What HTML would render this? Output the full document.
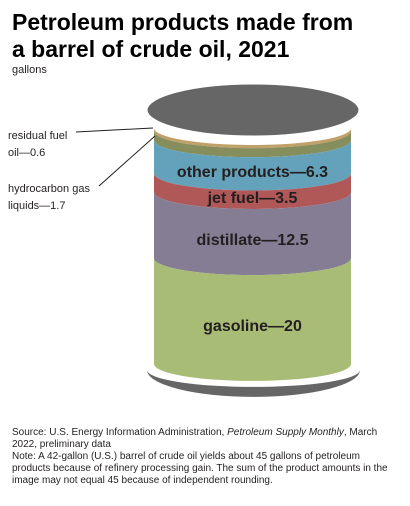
<!DOCTYPE html>
<html><head><meta charset="utf-8"><style>
body{margin:0;background:#fff;width:410px;height:506px;overflow:hidden;font-family:"Liberation Sans",sans-serif;}
svg{display:block}
</style></head><body>
<svg id="c" width="410" height="506" xmlns="http://www.w3.org/2000/svg">
<text x="12" y="30" font-size="23" font-weight="bold" fill="#000">Petroleum products made from</text>
<text x="12" y="57" font-size="23" font-weight="bold" fill="#000">a barrel of crude oil, 2021</text>
<text x="12" y="73" font-size="11" fill="#231f20">gallons</text>
<g id="bands"></g>
<ellipse cx="253" cy="110" rx="107" ry="27" fill="#666" stroke="#fff" stroke-width="3"/>
<line x1="76" y1="132" x2="153" y2="128" stroke="#231f20" stroke-width="1"/>
<line x1="99" y1="186" x2="155" y2="136" stroke="#231f20" stroke-width="1"/>
<text x="8" y="139" font-size="11" fill="#231f20">residual fuel</text>
<text x="8" y="156" font-size="11" fill="#231f20">oil—0.6</text>
<text x="8" y="192" font-size="11" fill="#231f20">hydrocarbon gas</text>
<text x="8" y="209" font-size="11" fill="#231f20">liquids—1.7</text>
<g font-size="10" fill="#231f20">
<text x="12" y="435">Source: U.S. Energy Information Administration, <tspan font-style="italic">Petroleum Supply Monthly</tspan>, March</text>
<text x="12" y="447">2022, preliminary data</text>
<text x="12" y="459">Note: A 42-gallon (U.S.) barrel of crude oil yields about 45 gallons of petroleum</text>
<text x="12" y="471">products because of refinery processing gain. The sum of the product amounts in the</text>
<text x="12" y="483">image may not equal 45 because of independent rounding.</text>
</g>
</svg>
<script>
const products=["residual fuel oil","hydrocarbon gas liquids","other products","jet fuel","distillate","gasoline"];
const gallons=[0.6,1.7,6.3,3.5,12.5,20];
const labels=["","","other products—6.3","jet fuel—3.5","distillate—12.5","gasoline—20"];
const colors=["#c2a06a","#868e5e","#64a2bb","#b05858","#857d94","#a9bc76"];
const NS="http://www.w3.org/2000/svg";
const g=document.getElementById('bands');
const x0=154,x1=351,top0=128,scale=5.29,ry=17;
const rx=(x1-x0)/2;
function yScale(v){return top0+v*scale;}
let cum=0;
for(let i=0;i<gallons.length;i++){
  const ya=yScale(cum),yb=yScale(cum+gallons[i]);
  const p=document.createElementNS(NS,'path');
  p.setAttribute('d',`M ${x0} ${ya} A ${rx} ${ry} 0 0 0 ${x1} ${ya} L ${x1} ${yb} A ${rx} ${ry} 0 0 1 ${x0} ${yb} Z`);
  p.setAttribute('fill',colors[i]);
  
  
  g.appendChild(p);
  if(labels[i]){
    const t=document.createElementNS(NS,'text');
    t.setAttribute('x',(x0+x1)/2);
    t.setAttribute('y',(ya+yb)/2+ry+3);
    t.setAttribute('text-anchor','middle');
    t.setAttribute('font-size','16');
    t.setAttribute('font-weight','bold');
    t.setAttribute('fill','#231f20');
    t.textContent=labels[i];
    
    
    g.appendChild(t);
  }
  cum+=gallons[i];
}
const yb=yScale(cum);
const bot=document.createElementNS(NS,'path');
bot.setAttribute('d',`M 147 ${yb+6} A 106.5 ${ry} 0 0 0 360 ${yb+6} A 106.5 27 0 0 1 147 ${yb+6} Z`);
bot.setAttribute('fill','#666');


g.appendChild(bot);
</script>
</body></html>
